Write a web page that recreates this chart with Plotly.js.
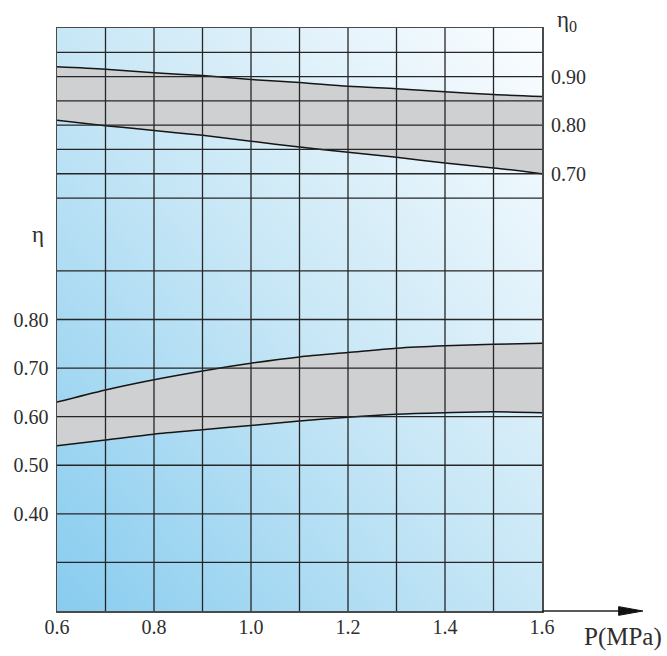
<!DOCTYPE html>
<html>
<head>
<meta charset="utf-8">
<script src="https://cdn.plot.ly/plotly-3.0.1.min.js"></script>
<style>html,body{margin:0;padding:0;background:#fff;}#chart{width:667px;height:656px;}</style>
</head>
<body>
<div id="chart"></div>
<script>
// ---- data ----
const pressure = [0.6, 0.7, 0.8, 0.9, 1.0, 1.1, 1.2, 1.3, 1.4, 1.5, 1.6];
// lower band, left axis (eta)
const etaUpper = [0.630, 0.655, 0.676, 0.694, 0.710, 0.723, 0.732, 0.741, 0.746, 0.749, 0.751];
const etaLower = [0.540, 0.552, 0.564, 0.573, 0.582, 0.591, 0.599, 0.605, 0.608, 0.610, 0.608];
// upper band, right axis (eta0)
const eta0Upper = [0.920, 0.915, 0.908, 0.902, 0.894, 0.888, 0.880, 0.875, 0.869, 0.863, 0.859];
const eta0Lower = [0.810, 0.799, 0.789, 0.779, 0.767, 0.755, 0.744, 0.734, 0.722, 0.712, 0.700];

// ticks / grid
const xTickVals = [0.6, 0.8, 1.0, 1.2, 1.4, 1.6];
const xTickText = ['0.6', '0.8', '1.0', '1.2', '1.4', '1.6'];
const xGridVals = [0.7, 0.8, 0.9, 1.0, 1.1, 1.2, 1.3, 1.4, 1.5];
const etaTickVals = [0.4, 0.5, 0.6, 0.7, 0.8];
const etaTickText = ['0.40', '0.50', '0.60', '0.70', '0.80'];
const etaGridVals = [0.3, 0.4, 0.5, 0.6, 0.7, 0.8, 0.9];
const eta0TickVals = [0.7, 0.8, 0.9];
const eta0TickText = ['0.70', '0.80', '0.90'];
const eta0GridVals = [0.65, 0.70, 0.75, 0.80, 0.85, 0.90, 0.95];

const FONT = 'Liberation Serif, Times New Roman, serif';
const TXT = '#2e2e2e';
const GRID = '#262626';
const FILL = '#cfd0d2';
const LINE = '#151515';

const curve = (y, yaxis, fill) => ({
  x: pressure, y: y, yaxis: yaxis, type: 'scatter', mode: 'lines',
  line: {color: LINE, width: 1.5, shape: 'spline', smoothing: 0.8},
  fill: fill, fillcolor: FILL, hoverinfo: 'skip', showlegend: false
});

const traces = [
  curve(etaLower, 'y', 'none'),
  curve(etaUpper, 'y', 'tonexty'),
  curve(eta0Lower, 'y2', 'none'),
  curve(eta0Upper, 'y2', 'tonexty')
];

const shapes = [];
xGridVals.forEach(v => shapes.push({type: 'line', layer: 'above', xref: 'x', yref: 'paper', x0: v, x1: v, y0: 0, y1: 1, line: {color: GRID, width: 1.3}}));
etaGridVals.forEach(v => shapes.push({type: 'line', layer: 'above', xref: 'paper', yref: 'y', x0: 0, x1: 1, y0: v, y1: v, line: {color: GRID, width: 1.3}}));
eta0GridVals.forEach(v => shapes.push({type: 'line', layer: 'above', xref: 'paper', yref: 'y2', x0: 0, x1: 1, y0: v, y1: v, line: {color: GRID, width: 1.3}}));
// x-axis arrow extension
shapes.push({type: 'line', layer: 'above', xref: 'paper', yref: 'paper', x0: 1, x1: 1.17, y0: 0, y1: 0, line: {color: '#222', width: 1.5}});
shapes.push({type: 'path', layer: 'above', xref: 'paper', yref: 'paper', path: 'M1.158,0.0075 L1.208,0 L1.158,-0.0075 Z', fillcolor: '#111', line: {color: '#111', width: 1}});

const svg = '<svg xmlns="http://www.w3.org/2000/svg" width="100" height="100">' +
  '<defs><linearGradient id="g" x1="0" y1="1" x2="1" y2="0">' +
  '<stop offset="0" stop-color="#88ccef"/><stop offset="0.5" stop-color="#c8e7f6"/><stop offset="1" stop-color="#fbfdff"/>' +
  '</linearGradient></defs><rect width="100" height="100" fill="url(#g)"/></svg>';
const bgURI = 'data:image/svg+xml;charset=utf-8,' + encodeURIComponent(svg);

const layout = {
  width: 667, height: 656,
  margin: {l: 57, r: 125, t: 28, b: 45, pad: 0},
  paper_bgcolor: '#ffffff', plot_bgcolor: 'rgba(0,0,0,0)',
  font: {family: FONT, size: 20, color: TXT},
  showlegend: false,
  xaxis: {
    range: [0.6, 1.6], tickvals: xTickVals, ticktext: xTickText, ticks: '',
    showgrid: false, zeroline: false, showline: true, mirror: true,
    linecolor: '#4a4a4a', linewidth: 1.5, layer: 'above traces',
    tickfont: {family: FONT, size: 20, color: TXT}, ticklabelstandoff: -3
  },
  yaxis: {
    range: [0.2, 1.4], tickvals: etaTickVals, ticktext: etaTickText, ticks: '',
    showgrid: false, zeroline: false, showline: true, mirror: true,
    linecolor: '#4a4a4a', linewidth: 1.5, layer: 'above traces',
    tickfont: {family: FONT, size: 20, color: TXT}, ticklabelstandoff: 3
  },
  yaxis2: {
    overlaying: 'y', side: 'right', range: [-0.2, 1.0],
    tickvals: eta0TickVals, ticktext: eta0TickText, ticks: '',
    showgrid: false, zeroline: false, showline: false,
    tickfont: {family: FONT, size: 20, color: TXT}, ticklabelstandoff: 8
  },
  shapes: shapes,
  images: [{source: bgURI, xref: 'paper', yref: 'paper', x: 0, y: 1, sizex: 1, sizey: 1,
            sizing: 'stretch', layer: 'below', xanchor: 'left', yanchor: 'top'}],
  annotations: [
    {text: 'η', xref: 'paper', yref: 'paper', x: -0.040, y: 0.646, showarrow: false,
     xanchor: 'center', yanchor: 'middle', font: {family: FONT, size: 23, color: TXT}},
    {text: 'η<sub>0</sub>', xref: 'paper', yref: 'paper', x: 1.052, y: 1.012, showarrow: false,
     xanchor: 'center', yanchor: 'middle', font: {family: FONT, size: 23, color: TXT}},
    {text: 'P(MPa)', xref: 'paper', yref: 'paper', x: 1.168, y: -0.045, showarrow: false,
     xanchor: 'center', yanchor: 'middle', font: {family: FONT, size: 25, color: TXT}}
  ]
};

Plotly.newPlot('chart', traces, layout, {displayModeBar: false, staticPlot: true});
</script>
</body>
</html>
